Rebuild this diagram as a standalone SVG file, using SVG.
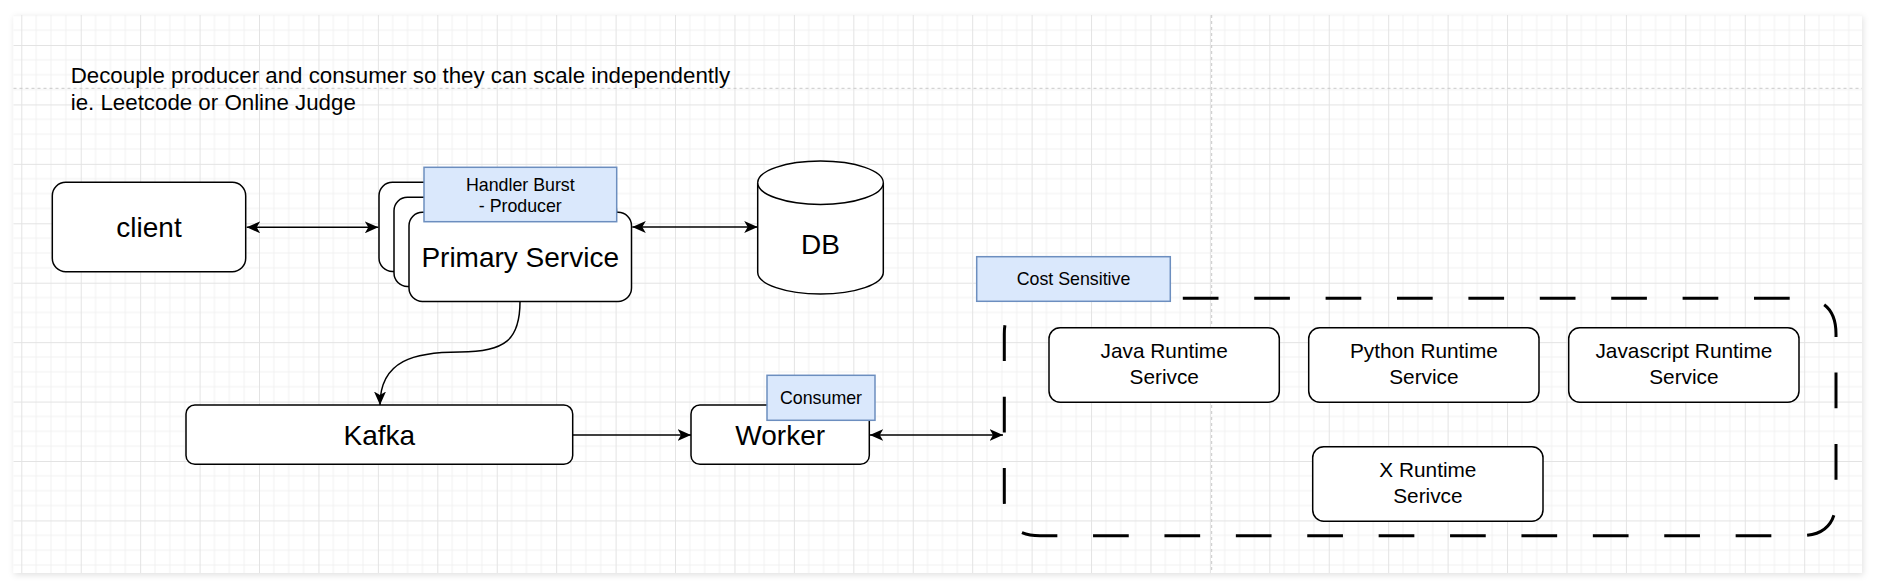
<svg xmlns="http://www.w3.org/2000/svg" width="1878" height="587" viewBox="0 0 1878 587">
<style>
.box{fill:#fff;stroke:#000;stroke-width:1.5}
.tag{fill:#dae8fc;stroke:#6c8ebf;stroke-width:1.5}
.t{font-family:"Liberation Sans",Arial,Helvetica,sans-serif;fill:#000}
.big{font-size:28px;text-anchor:middle}
.mid{font-size:20.8px;text-anchor:middle}
.sm{font-size:17.8px;text-anchor:middle}
.edge{fill:none;stroke:#000;stroke-width:1.5}
.pb{stroke:#c8c8c8;stroke-width:1;stroke-dasharray:3 3;fill:none}
</style>
<defs>
<pattern id="grid" patternUnits="userSpaceOnUse" x="21.3" y="45" width="59.43" height="59.43">
<path d="M14.86,0V59.43M29.72,0V59.43M44.57,0V59.43M0,14.86H59.43M0,29.72H59.43M0,44.57H59.43" stroke="#f1f1f1" stroke-width="1" fill="none"/>
<path d="M0.5,0V59.43M0,0.5H59.43" stroke="#e3e3e3" stroke-width="1" fill="none"/>
</pattern>
<filter id="sh" x="-5%" y="-5%" width="110%" height="110%">
<feDropShadow dx="1" dy="2" stdDeviation="3" flood-color="#000" flood-opacity="0.12"/>
</filter>
<marker id="arr" viewBox="0 0 14 12" refX="13.5" refY="6" markerWidth="14" markerHeight="12" markerUnits="userSpaceOnUse" orient="auto-start-reverse">
<path d="M13.5,6 L0,0 L3.5,6 L0,12 Z" fill="#000"/>
</marker>
</defs>
<rect x="0" y="0" width="1878" height="587" fill="#fff"/>
<g id="page">
<rect x="13.5" y="15" width="1848.5" height="558" fill="#fff" filter="url(#sh)"/>
<rect x="13.5" y="15" width="1848.5" height="558" fill="url(#grid)"/>
<path class="pb" d="M13.5,88.3H1862M1211.7,15V573"/>
</g>
<g id="note">
<text class="t" x="70.7" y="82.7" font-size="22.3">Decouple producer and consumer so they can scale independently</text>
<text class="t" x="70.7" y="109.7" font-size="22.3">ie. Leetcode or Online Judge</text>
</g>
<g id="client">
<rect class="box" x="52.3" y="182.3" width="193.4" height="89.4" rx="13.4"/>
<text class="t big" x="149" y="237">client</text>
</g>
<g id="primary-service">
<rect class="box" x="379" y="182.3" width="222.5" height="89.2" rx="13.4"/>
<rect class="box" x="394" y="197.3" width="222.5" height="89.2" rx="13.4"/>
<rect class="box" x="409" y="212.3" width="222.5" height="89.2" rx="13.4"/>
<text class="t big" x="520.2" y="266.7">Primary Service</text>
</g>
<g id="handler-label">
<rect class="tag" x="424" y="167.3" width="192.7" height="54.4"/>
<text class="t sm" x="520.3" y="190.7">Handler Burst</text>
<text class="t sm" x="520.3" y="211.9">- Producer</text>
</g>
<g id="db">
<path class="box" d="M757.7,182.7 A62.8,21.7 0 0 1 883.3,182.7 L883.3,272.3 A62.8,21.7 0 0 1 757.7,272.3 Z"/>
<path class="box" fill="none" d="M757.7,182.7 A62.8,21.7 0 0 0 883.3,182.7"/>
<text class="t big" x="820.5" y="254.3">DB</text>
</g>
<g id="kafka">
<rect class="box" x="186" y="405" width="386.7" height="59.3" rx="8.9"/>
<text class="t big" x="379.3" y="445">Kafka</text>
</g>
<g id="worker">
<rect class="box" x="691" y="405" width="178.3" height="59.3" rx="8.9"/>
<text class="t big" x="780.2" y="445">Worker</text>
</g>
<g id="consumer-label">
<rect class="tag" x="767" y="375.3" width="108" height="45"/>
<text class="t sm" x="821" y="403.5">Consumer</text>
</g>
<g id="runtime-pool">
<path d="M1040,298.3 H1800.4 Q1836,298.3 1836,334 V500 Q1836,535.7 1800.4,535.7 H1040 Q1004.3,535.7 1004.3,500 V334 Q1004.3,298.3 1040,298.3 Z" fill="none" stroke="#000" stroke-width="3" stroke-dasharray="35.7 35.7"/>
</g>
<g id="cost-label">
<rect class="tag" x="976.7" y="256.7" width="193.6" height="44.6"/>
<text class="t sm" x="1073.5" y="284.5">Cost Sensitive</text>
</g>
<g id="java-runtime">
<rect class="box" x="1049" y="327.7" width="230.3" height="74.5" rx="11.1"/>
<text class="t mid" x="1164.2" y="358.3">Java Runtime</text>
<text class="t mid" x="1164.2" y="384.3">Serivce</text>
</g>
<g id="python-runtime">
<rect class="box" x="1308.7" y="327.7" width="230.3" height="74.5" rx="11.1"/>
<text class="t mid" x="1423.9" y="358.3">Python Runtime</text>
<text class="t mid" x="1423.9" y="384.3">Service</text>
</g>
<g id="javascript-runtime">
<rect class="box" x="1568.7" y="327.7" width="230.3" height="74.5" rx="11.1"/>
<text class="t mid" x="1683.9" y="358.3">Javascript Runtime</text>
<text class="t mid" x="1683.9" y="384.3">Service</text>
</g>
<g id="x-runtime">
<rect class="box" x="1312.7" y="446.7" width="230.3" height="74.5" rx="11.1"/>
<text class="t mid" x="1427.9" y="477.3">X Runtime</text>
<text class="t mid" x="1427.9" y="503.3">Serivce</text>
</g>
<g id="connectors">
<path class="edge" d="M246.7,227.3 H378.3" marker-start="url(#arr)" marker-end="url(#arr)"/>
<path class="edge" d="M632.3,227 H757.7" marker-start="url(#arr)" marker-end="url(#arr)"/>
<path class="edge" d="M520,301.5 C520,340 505,352 460,352 C415,352 380,360 380,405" marker-end="url(#arr)"/>
<path class="edge" d="M572.7,435 H691" marker-end="url(#arr)"/>
<path class="edge" d="M869.8,435 H1003" marker-start="url(#arr)" marker-end="url(#arr)"/>
</g>
</svg>
